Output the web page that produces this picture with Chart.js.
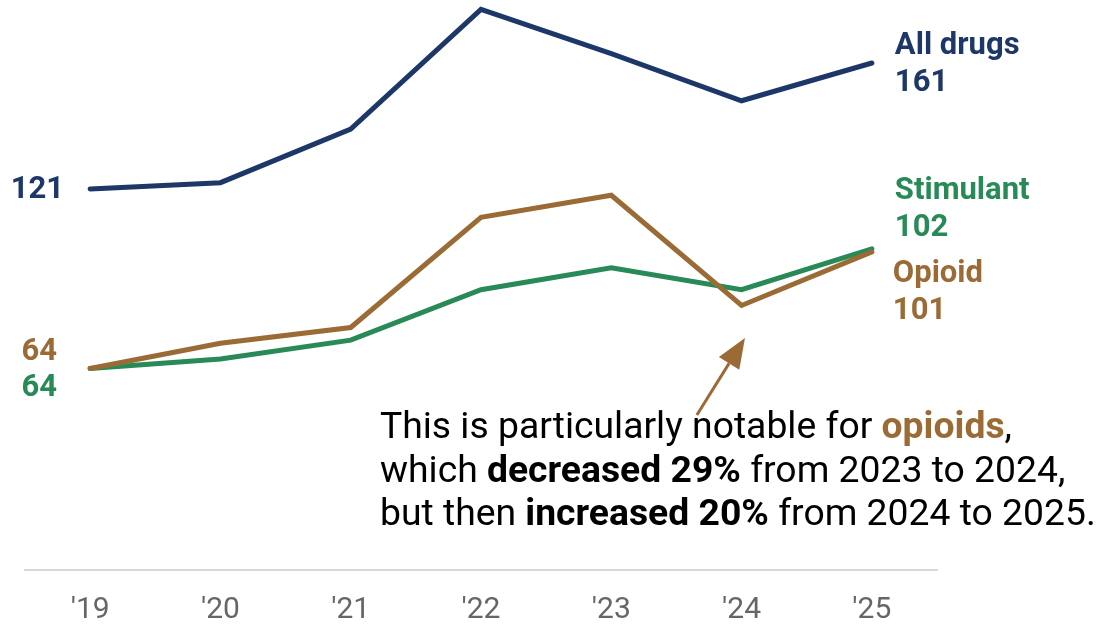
<!DOCTYPE html>
<html>
<head>
<meta charset="utf-8">
<script src="https://cdn.jsdelivr.net/npm/chart.js@4"></script>
<style>
  html, body { margin: 0; padding: 0; background: #fff; }
  #wrap { width: 1100px; height: 625px; }
</style>
</head>
<body>
<div id="wrap"><canvas id="drugChart" width="1100" height="625"></canvas></div>
<script>
// years on the x axis
const years = ["'19", "'20", "'21", "'22", "'23", "'24", "'25"];

// series values
const allDrugs = [121, 123, 140, 178, 164, 149, 161];
const opioid = [64, 72, 77, 112, 119, 84, 101];
const stimulant = [64, 67, 73, 89, 96, 89, 102];

const NAVY = '#1d3769';
const BROWN = '#9b6b36';
const GREEN = '#288a56';
const FONT = 'Roboto, "Open Sans", sans-serif';

// note text, split into styled runs per line
const noteLines = [
  [{ t: 'This is particularly notable for ' }, { t: 'opioids', b: true, c: BROWN }, { t: ',' }],
  [{ t: 'which ' }, { t: 'decreased 29%', b: true }, { t: ' from 2023 to 2024,' }],
  [{ t: 'but then ' }, { t: 'increased 20%', b: true }, { t: ' from 2024 to 2025.' }]
];

function drawRuns(ctx, runs, x, y, size) {
  let cx = x;
  runs.forEach(r => {
    ctx.font = (r.b ? 'bold ' : '') + size + 'px ' + FONT;
    ctx.fillStyle = r.c || '#000';
    ctx.fillText(r.t, cx, y);
    cx += ctx.measureText(r.t).width;
  });
}

const labelPlugin = {
  id: 'labels',
  afterDatasetsDraw(chart) {
    const ctx = chart.ctx;
    const xs = chart.scales.x, ys = chart.scales.y;
    const last = years.length - 1;
    const x0 = xs.getPixelForValue(0);
    const xN = xs.getPixelForValue(last) + 23;

    ctx.save();
    ctx.textBaseline = 'middle';
    ctx.font = 'bold 31px ' + FONT;

    // start values
    ctx.textAlign = 'right';
    ctx.fillStyle = NAVY;
    ctx.fillText(allDrugs[0], x0 - 26, ys.getPixelForValue(allDrugs[0]) + 1);
    ctx.fillStyle = BROWN;
    ctx.fillText(opioid[0], x0 - 33, ys.getPixelForValue(opioid[0]) - 16);
    ctx.fillStyle = GREEN;
    ctx.fillText(stimulant[0], x0 - 33, ys.getPixelForValue(stimulant[0]) + 20);

    // end labels
    ctx.textAlign = 'left';
    let y = ys.getPixelForValue(allDrugs[last]);
    ctx.fillStyle = NAVY;
    ctx.fillText('All drugs', xN, y - 17);
    ctx.fillText(allDrugs[last], xN, y + 20);

    y = ys.getPixelForValue(stimulant[last]);
    ctx.fillStyle = GREEN;
    ctx.fillText('Stimulant', xN, y - 58);
    ctx.fillText(stimulant[last], xN, y - 21);

    y = ys.getPixelForValue(opioid[last]);
    ctx.fillStyle = BROWN;
    ctx.fillText('Opioid', xN - 2, y + 22);
    ctx.fillText(opioid[last], xN - 2, y + 59);

    // arrow pointing at the 2024 opioid dip
    const tx = xs.getPixelForValue(5.026), ty = ys.getPixelForValue(73.7);
    const sx = xs.getPixelForValue(4.657), sy = ys.getPixelForValue(49.2);
    const ang = Math.atan2(ty - sy, tx - sx);
    const headLen = 30, headW = 12;
    const bx = tx - headLen * Math.cos(ang), by = ty - headLen * Math.sin(ang);
    ctx.strokeStyle = BROWN;
    ctx.lineWidth = 3;
    ctx.beginPath();
    ctx.moveTo(sx, sy);
    ctx.lineTo(bx, by);
    ctx.stroke();
    ctx.fillStyle = BROWN;
    ctx.beginPath();
    ctx.moveTo(tx, ty);
    ctx.lineTo(bx + headW * Math.sin(ang), by - headW * Math.cos(ang));
    ctx.lineTo(bx - headW * Math.sin(ang), by + headW * Math.cos(ang));
    ctx.closePath();
    ctx.fill();

    // note text
    noteLines.forEach((line, i) => drawRuns(ctx, line, 380, 429 + i * 43.5, 37.3));
    ctx.restore();
  }
};

const lineStyle = {
  pointRadius: 0,
  pointHoverRadius: 0,
  borderWidth: 5,
  tension: 0,
  clip: false,
  borderCapStyle: 'round',
  borderJoinStyle: 'miter'
};

new Chart(document.getElementById('drugChart'), {
  type: 'line',
  data: {
    labels: years,
    datasets: [
      Object.assign({ label: 'All drugs', data: allDrugs, borderColor: NAVY }, lineStyle),
      Object.assign({ label: 'Opioid', data: opioid, borderColor: BROWN }, lineStyle),
      Object.assign({ label: 'Stimulant', data: stimulant, borderColor: GREEN }, lineStyle)
    ]
  },
  options: {
    responsive: false,
    animation: false,
    events: [],
    layout: { padding: { left: 25, right: 163, top: 0, bottom: 0 } },
    plugins: { legend: { display: false }, tooltip: { enabled: false } },
    scales: {
      x: {
        offset: true,
        grid: { display: false, drawTicks: false },
        border: { display: true, color: '#d9d9d9', width: 2 },
        ticks: { color: '#666', padding: 22, font: { family: FONT, size: 30 } },
        afterFit: (scale) => { scale.height = 55; }
      },
      y: { display: false, min: 0, max: 181 }
    }
  },
  plugins: [labelPlugin]
});
</script>
</body>
</html>
